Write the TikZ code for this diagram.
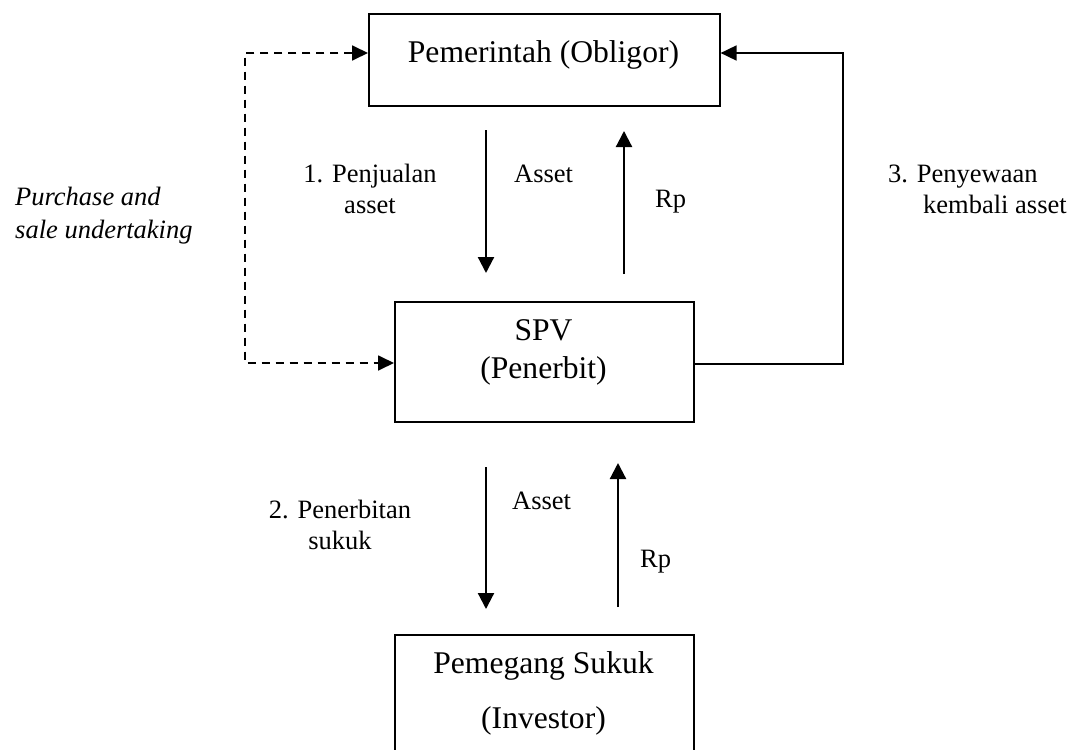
\documentclass[tikz,border=0pt]{standalone}
\usepackage{fontspec}
\setmainfont{Liberation Serif}
\usetikzlibrary{arrows.meta,calc}
\begin{document}
\begin{tikzpicture}[x=1pt,y=-1pt,
  box/.style={draw,line width=1.6pt,inner sep=0pt,anchor=north west},
  bigtxt/.style={font=\fontsize{31.6pt}{38pt}\selectfont,inner sep=0pt,align=center},
  smalltxt/.style={font=\fontsize{26.5pt}{31pt}\selectfont,inner sep=0pt},
  flow/.style={line width=2.2pt,-{Triangle[length=16pt,width=16pt]}},
  dashflow/.style={line width=1.8pt,dash pattern=on 8pt off 6pt,{Triangle[length=16pt,width=15pt]}-{Triangle[length=16pt,width=15pt]}},
  link/.style={line width=1.8pt,-{Triangle[length=16pt,width=15pt]}}]
\useasboundingbox (0,0) rectangle (1083,749);
\clip (0,0) rectangle (1083,749);
% boxes
\node[box,minimum width=351pt,minimum height=92pt] (gov) at (368,13) {};
\node[box,minimum width=299pt,minimum height=120pt] (spv) at (394,301) {};
\node[box,minimum width=299pt,minimum height=140pt] (inv) at (394,634) {};
% box texts
\node[bigtxt,anchor=base] (govt) at (543.5,63) {Pemerintah (Obligor)};
\node[bigtxt,anchor=base] (spvt1) at (543.5,340) {SPV};
\node[bigtxt,anchor=base] (spvt2) at (543.5,378) {(Penerbit)};
\node[bigtxt,anchor=base] (invt1) at (543.5,673) {Pemegang Sukuk};
\node[bigtxt,anchor=base] (invt2) at (543.5,728) {(Investor)};
% vertical arrows
\coordinate (a1s) at (486,130); \coordinate (a1e) at (486,273);
\coordinate (b1s) at (624,274); \coordinate (b1e) at (624,131);
\coordinate (a2s) at (486,467); \coordinate (a2e) at (486,609);
\coordinate (b2s) at (618,607); \coordinate (b2e) at (618,463);
\draw[flow] (a1s) -- (a1e);
\draw[flow] (b1s) -- (b1e);
\draw[flow] (a2s) -- (a2e);
\draw[flow] (b2s) -- (b2e);
% dashed purchase/sale undertaking
\coordinate (dl) at (245,53);
\coordinate (dr) at (245,363);
\draw[dashflow] (dl -| gov.west) -- (dl) -- (dr) -- (dr -| spv.west);
% lease back
\coordinate (rb) at (843,364);
\coordinate (rt) at (843,53);
\draw[link] (rb -| spv.east) -- (rb) -- (rt) -- (rt -| gov.east);
% labels
\node[smalltxt,anchor=base] (l1a) at (370,182) {1. Penjualan};
\node[smalltxt,anchor=base] (l1b) at (370,213) {asset};
\node[smalltxt,anchor=base west] (as1) at (514,182) {Asset};
\node[smalltxt,anchor=base west] (rp1) at (655,207) {Rp};
\node[smalltxt,anchor=base west] (l3a) at (888,182) {3. Penyewaan};
\node[smalltxt,anchor=base west] (l3b) at (923,213) {kembali asset};
\node[smalltxt,anchor=base west,font=\fontsize{26.5pt}{31pt}\selectfont\itshape] (pa) at (15,205) {Purchase and};
\node[smalltxt,anchor=base west,font=\fontsize{26.5pt}{31pt}\selectfont\itshape] (pb) at (15,238) {sale undertaking};
\node[smalltxt,anchor=base] (l2a) at (340,518) {2. Penerbitan};
\node[smalltxt,anchor=base] (l2b) at (340,549) {sukuk};
\node[smalltxt,anchor=base west] (as2) at (512,509) {Asset};
\node[smalltxt,anchor=base west] (rp2) at (640,567) {Rp};
\end{tikzpicture}
\end{document}
